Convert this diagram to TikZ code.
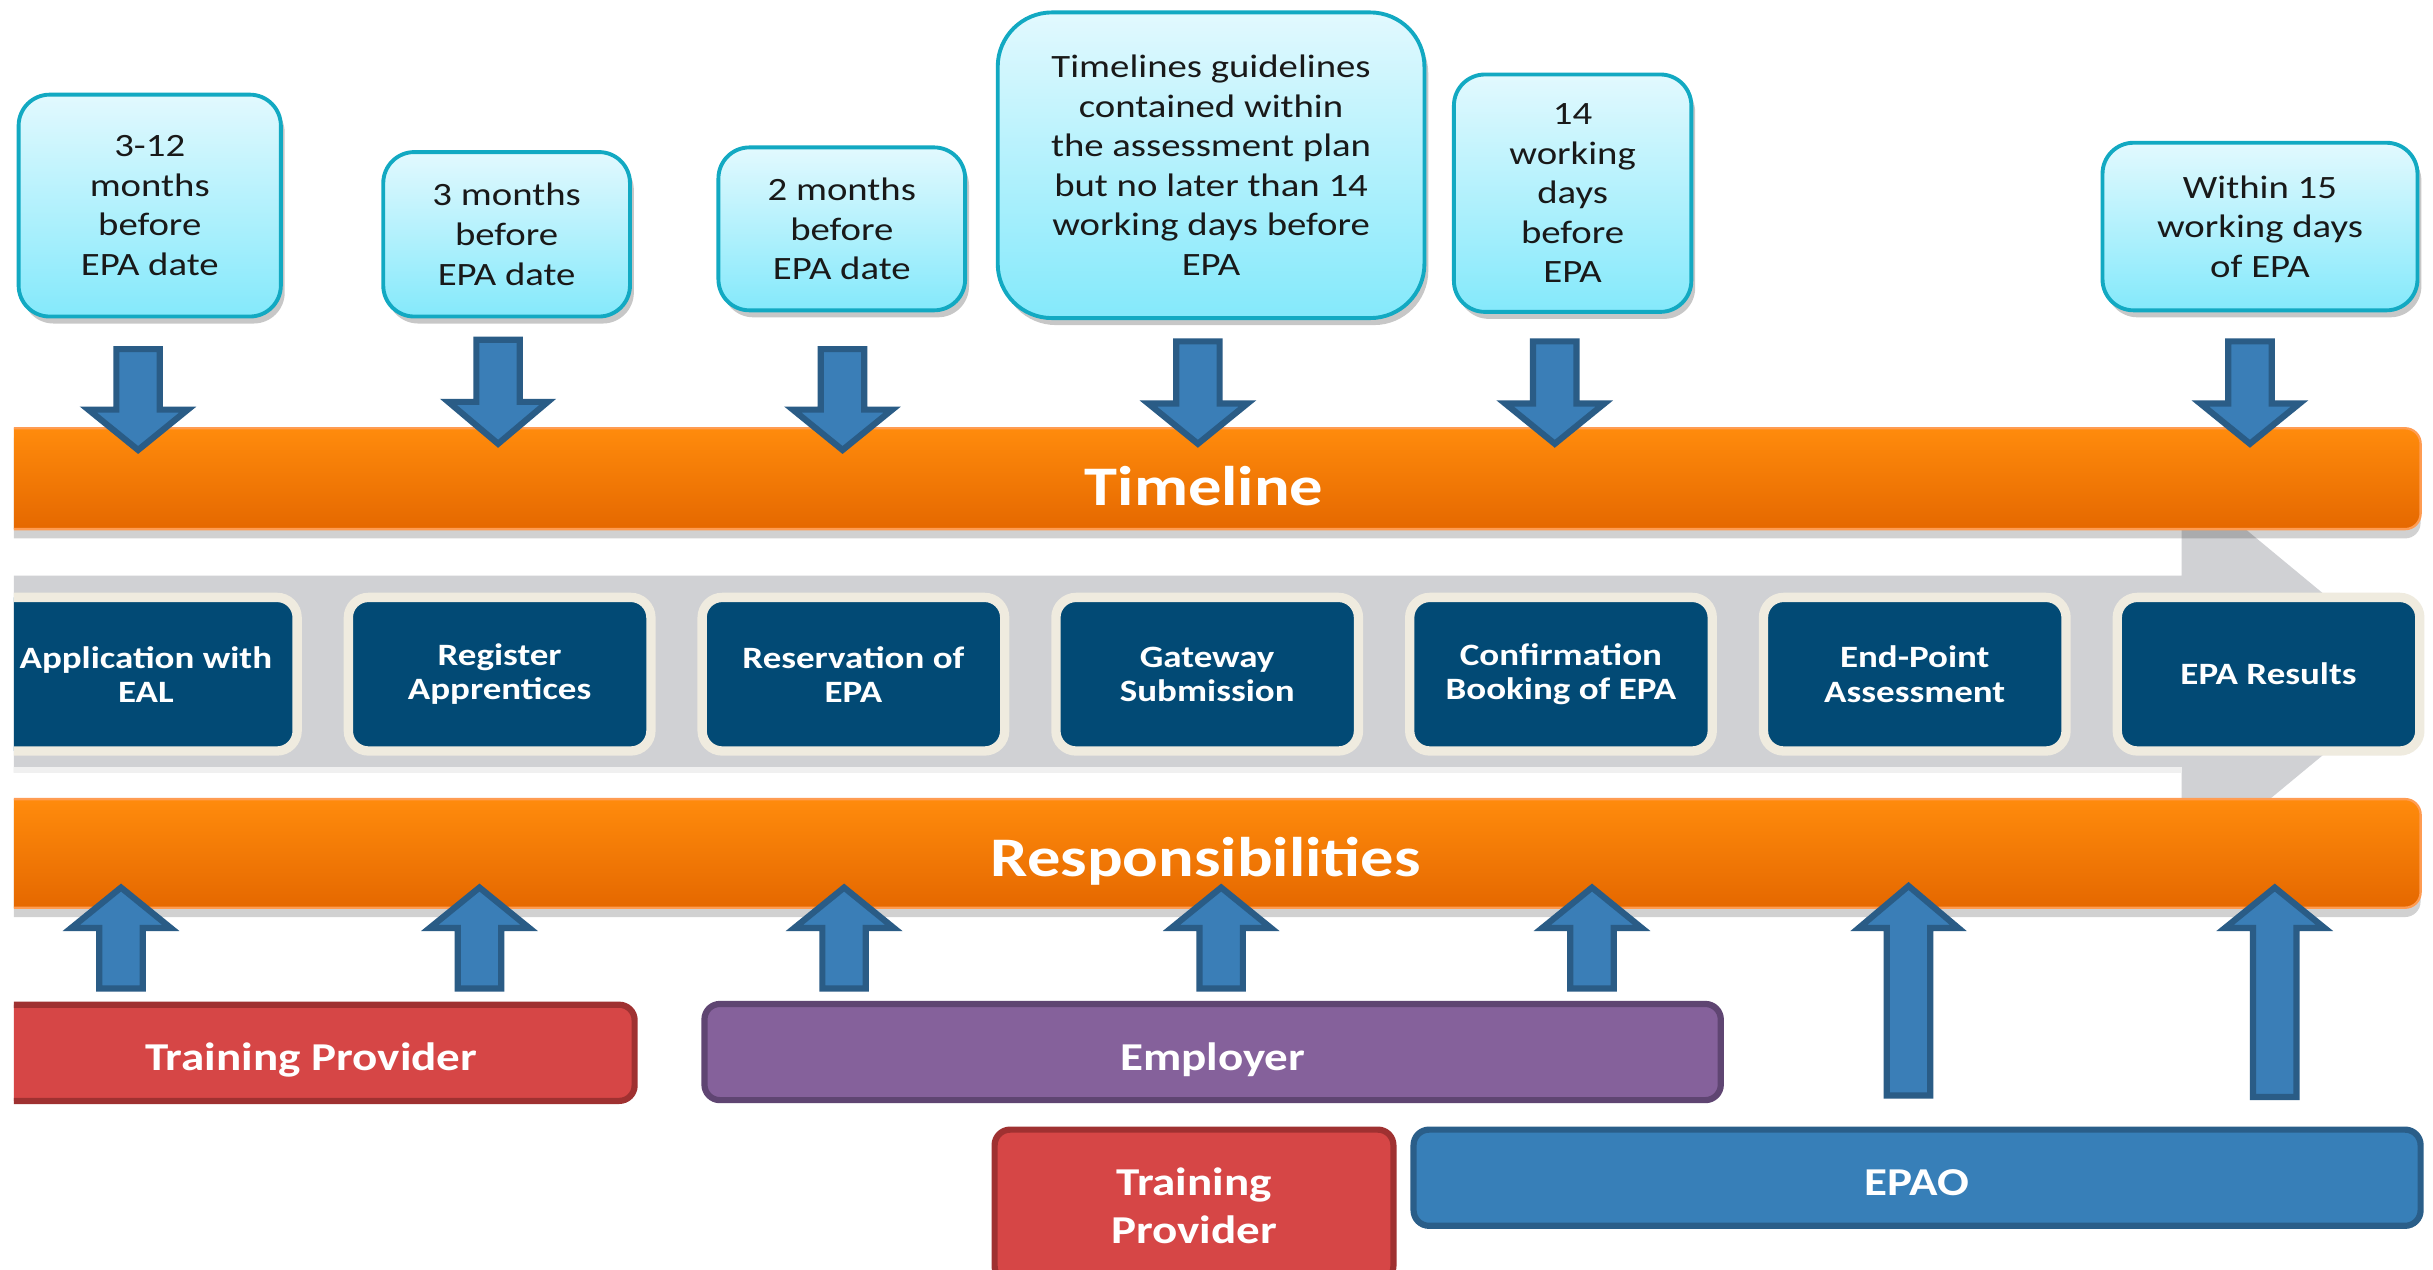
\documentclass[tikz,border=0pt]{standalone}
\usepackage{fontspec}
\setmainfont{Carlito}[FakeStretch=1.19]
\usetikzlibrary{shadows}
\definecolor{boxtop}{HTML}{E2F9FE}
\definecolor{boxbot}{HTML}{84E9FB}
\definecolor{boxline}{HTML}{12A9C2}
\definecolor{arrfill}{HTML}{3A7EB7}
\definecolor{arrline}{HTML}{2A5C86}
\definecolor{orA}{HTML}{FF8B0C}
\definecolor{orB}{HTML}{F97C02}
\definecolor{orC}{HTML}{E56800}
\definecolor{oredge}{HTML}{FF9C52}
\definecolor{grayband}{HTML}{D0D1D4}
\definecolor{navy}{HTML}{024A75}
\definecolor{cream}{HTML}{EFEBDF}
\definecolor{redfill}{HTML}{D64646}
\definecolor{redline}{HTML}{9F3131}
\definecolor{purfill}{HTML}{85619B}
\definecolor{purline}{HTML}{5F4572}
\definecolor{epafill}{HTML}{377FB8}
\definecolor{epaline}{HTML}{2A5E89}
\tikzset{
  sz/.style 2 args={minimum width=#1*0.02cm, minimum height=#2*0.02cm},
  topbox/.style={draw=boxline, line width=0.05cm, top color=boxtop, bottom color=boxbot,
    rounded corners=0.4cm, inner sep=0pt, align=center, text=black!90,
    font=\fontsize{11.95}{14.5}\selectfont,
    drop shadow={shadow xshift=0.05cm, shadow yshift=-0.09cm, opacity=0.22, fill=black}},
  blkarrow/.style={fill=arrfill, draw=arrline, line width=0.08cm},
  orbar/.style={top color=orA, middle color=orB, bottom color=orC, draw=oredge, line width=0.03cm,
    rounded corners=0.2cm,
    drop shadow={shadow xshift=0cm, shadow yshift=-0.12cm, opacity=0.18, fill=black}},
  bartext/.style={text=white, text depth=0pt, font=\fontsize{20.5}{24}\selectfont\bfseries},
  stepbox/.style={fill=navy, draw=cream, line width=0.12cm, rounded corners=0.26cm, sz={195}{99},
    inner sep=0pt, align=center, text=white, font=\fontsize{11.4}{12.5}\selectfont\bfseries},
  rolebox/.style={line width=0.08cm, rounded corners=0.2cm, inner sep=0pt, align=center,
    text=white, font=\fontsize{14.5}{17.6}\selectfont\bfseries},
  redbox/.style={rolebox, fill=redfill, draw=redline},
  purbox/.style={rolebox, fill=purfill, draw=purline},
  epabox/.style={rolebox, fill=epafill, draw=epaline}
}
\newcommand\blkdown[4]{\filldraw[blkarrow] ({#1-14},#2) -- ({#1+14},#2) -- ({#1+14},#3) -- ({#1+32},#3) -- (#1,{#4-2}) -- ({#1-32},#3) -- ({#1-14},#3) -- cycle;}
\newcommand\blkup[4]{\filldraw[blkarrow] ({#1-14},{#2-2}) -- ({#1+14},{#2-2}) -- ({#1+14},#3) -- ({#1+32},#3) -- (#1,{#4+2}) -- ({#1-32},#3) -- ({#1-14},#3) -- cycle;}
\begin{document}
\begin{tikzpicture}[x=0.02cm,y=-0.02cm]
\useasboundingbox[fill=white] (0,0) rectangle (1568,818);
\begin{scope}
\clip (9,0) rectangle (1568,818);
% grey process arrow
\fill[grayband] (-20,371) -- (1406,371) -- (1406,307) -- (1560,434.5) -- (1406,562) -- (1406,498) -- (-20,498) -- cycle;
\fill[black!6] (-20,494) rectangle (1406,498);
% bars
\path[orbar] (-30,276) rectangle (1560,341);
\node[bartext] (tl) at (776,313) {Timeline};
\path[orbar] (-30,515) rectangle (1560,585);
\node[bartext] (rs) at (777,552) {Responsibilities};
% steps
\node[stepbox] (s1) at (94,434.5) {Application with\\EAL};
\node[stepbox] (s2) at (322,434.5) {Register\\Apprentices};
\node[stepbox] (s3) at (550,434.5) {Reservation of\\EPA};
\node[stepbox] (s4) at (778,434.5) {Gateway\\Submission};
\node[stepbox] (s5) at (1006,434.5) {Confirmation\\Booking of EPA};
\node[stepbox] (s6) at (1234,434.5) {End-Point\\Assessment};
\node[stepbox] (s7) at (1462,434.5) {EPA Results};
% roles
\node[redbox, sz={417}{62}] (tp1) at (200.5,678.5) {};
\node[text=white, font=\fontsize{14.5}{17.6}\selectfont\bfseries] (tp1t) at (200.5,683) {Training Provider};
\node[purbox, sz={655}{62}] (emp) at (781.5,678) {};
\node[text=white, font=\fontsize{14.5}{17.6}\selectfont\bfseries] (empt) at (781.5,683) {Employer};
\node[redbox, sz={257}{98}] (tp2) at (769.5,777) {Training\\Provider};
\node[epabox, sz={649}{62}] (epao) at (1235.5,759) {};
\node[text=white, font=\fontsize{14.5}{17.6}\selectfont\bfseries] (epaot) at (1235.5,762) {EPAO};
\end{scope}
% timeline boxes
\node[topbox, sz={169}{143}] (t1) at (96.5,132.5) {3-12\\months\\before\\EPA date};
\node[topbox, sz={159}{106}] (t2) at (326.5,151) {3 months\\before\\EPA date};
\node[topbox, sz={159}{105}] (t3) at (542.5,147.5) {2 months\\before\\EPA date};
\node[topbox, sz={275}{197}, rounded corners=0.7cm] (t4) at (780.5,106.5) {Timelines guidelines\\contained within\\the assessment plan\\but no later than 14\\working days before\\EPA};
\node[topbox, sz={153}{153}] (t5) at (1013.5,124.5) {14\\working\\days\\before\\EPA};
\node[topbox, sz={203}{108}] (t6) at (1456.5,146) {Within 15\\working days\\of EPA};
% down arrows
\blkdown{89}{225}{264}{292}
\blkdown{321}{219}{259}{288}
\blkdown{543}{225}{264}{292}
\blkdown{772}{220}{260}{288}
\blkdown{1002}{220}{260}{288}
\blkdown{1450}{220}{260}{288}
% up arrows
\blkup{78}{639}{598}{570}
\blkup{309}{639}{598}{570}
\blkup{544}{639}{598}{570}
\blkup{787}{639}{598}{570}
\blkup{1026}{639}{598}{570}
\blkup{1230}{708}{598}{569}
\blkup{1466}{709}{598}{570}
\end{tikzpicture}
\end{document}
